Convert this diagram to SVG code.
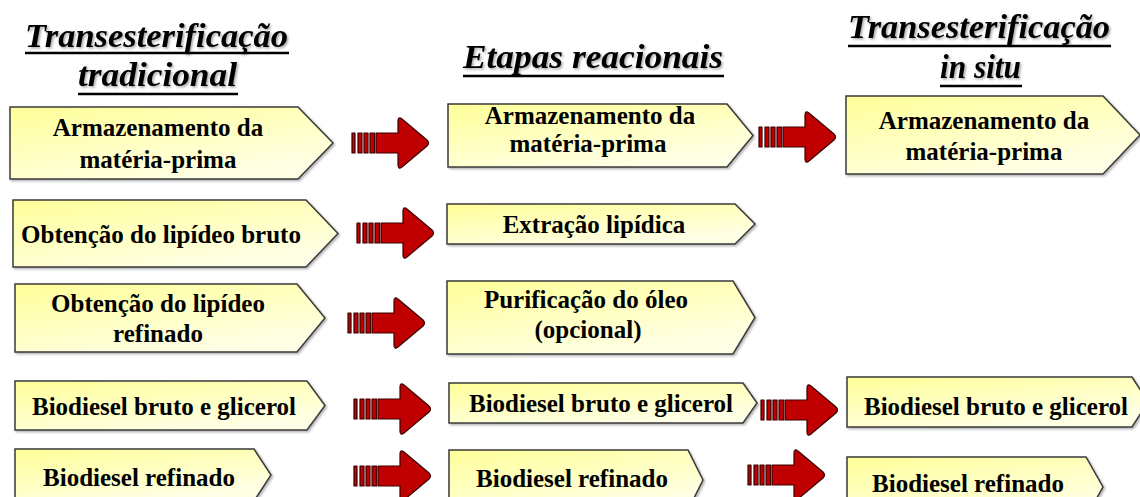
<svg xmlns="http://www.w3.org/2000/svg" width="1140" height="497" viewBox="0 0 1140 497">
<style>
.box{fill:url(#yg);stroke:#3a3a3a;stroke-width:1.5;filter:url(#sh)}
.t{font-weight:bold;font-size:25px;fill:#000;text-anchor:middle}
.h{font-weight:bold;font-style:italic;font-size:34px;fill:#000;filter:url(#tsh)}
.ul{stroke:#000;stroke-width:2.5}
.ar{fill:#C00000;stroke:#3a0000;stroke-width:1.2;stroke-linejoin:round}
</style>
<defs>
<linearGradient id="yg" x1="0" y1="0" x2="0.6" y2="1">
<stop offset="0" stop-color="#FFFF99"/>
<stop offset="1" stop-color="#FFFFE6"/>
</linearGradient>
<filter id="sh" x="-5%" y="-10%" width="115%" height="130%">
<feDropShadow dx="1.5" dy="1.5" stdDeviation="1" flood-color="#000" flood-opacity="0.3"/>
</filter>
<filter id="tsh" x="-5%" y="-10%" width="115%" height="130%">
<feDropShadow dx="1.5" dy="1.5" stdDeviation="0.8" flood-color="#000" flood-opacity="0.35"/>
</filter>
<g id="arr" class="ar">
<rect x="0" y="-10" width="3" height="20"/>
<rect x="6" y="-10" width="4" height="20"/>
<rect x="12" y="-10" width="4" height="20"/>
<rect x="18" y="-10" width="4.5" height="20"/>
<path d="M24,-10 H46 V-22 Q46,-27 50,-24 L75,-3 Q78,0 75,3 L50,24 Q46,27 46,22 V10 H24 Z"/>
</g>
</defs>
<rect width="1140" height="497" fill="#fff"/>

<g id="titles" font-family="Liberation Serif, Tinos, Times New Roman, DejaVu Serif, serif">
<text class="h" x="25" y="47" textLength="263" lengthAdjust="spacingAndGlyphs">Transesterificação</text>
<line class="ul" x1="25" y1="53" x2="289" y2="53"/>
<text class="h" x="78" y="86" textLength="159" lengthAdjust="spacingAndGlyphs">tradicional</text>
<line class="ul" x1="78" y1="94" x2="238" y2="94"/>
<text class="h" x="463" y="68" textLength="260" lengthAdjust="spacingAndGlyphs">Etapas reacionais</text>
<line class="ul" x1="463" y1="76" x2="724" y2="76"/>
<text class="h" x="848" y="38" textLength="262" lengthAdjust="spacingAndGlyphs">Transesterificação</text>
<line class="ul" x1="848" y1="46" x2="1111" y2="46"/>
<text class="h" x="940" y="78" textLength="81" lengthAdjust="spacingAndGlyphs">in situ</text>
<line class="ul" x1="940" y1="86" x2="1022" y2="86"/>
</g>

<g id="connectors">
<use href="#arr" x="352" y="143"/>
<use href="#arr" x="357" y="233"/>
<use href="#arr" x="348" y="323"/>
<use href="#arr" x="354" y="409"/>
<use href="#arr" x="354" y="476"/>
<use href="#arr" x="759" y="137"/>
<use href="#arr" x="761" y="410"/>
<use href="#arr" x="748" y="475"/>
</g>

<g id="nodes" font-family="Liberation Serif, Tinos, Times New Roman, DejaVu Serif, serif">
<g id="c1r1"><path class="box" d="M10,107 H298 L333,143 L298,179 H10 Z"/>
<text class="t" x="158" y="136">Armazenamento da</text><text class="t" x="158" y="168">matéria-prima</text></g>
<g id="c1r2"><path class="box" d="M13,200 H306 L338,233.5 L306,267 H13 Z"/>
<text class="t" x="161" y="243">Obtenção do lipídeo bruto</text></g>
<g id="c1r3"><path class="box" d="M15,284 H297 L325,318 L297,352 H15 Z"/>
<text class="t" x="158" y="312">Obtenção do lipídeo</text><text class="t" x="158" y="342">refinado</text></g>
<g id="c1r4"><path class="box" d="M15,381 H307 L325,405.5 L307,430 H15 Z"/>
<text class="t" x="164" y="415">Biodiesel bruto e glicerol</text></g>
<g id="c1r5"><path class="box" d="M15,449 H254 L271,475 L254,501 H15 Z"/>
<text class="t" x="139" y="486">Biodiesel refinado</text></g>

<g id="c2r1"><path class="box" d="M448,104 H727 L753,135.5 L727,167 H448 Z"/>
<text class="t" x="590" y="124">Armazenamento da</text><text class="t" x="588" y="152">matéria-prima</text></g>
<g id="c2r2"><path class="box" d="M447,204 H735 L755,224 L735,244 H447 Z"/>
<text class="t" x="594" y="233">Extração lipídica</text></g>
<g id="c2r3"><path class="box" d="M447,281 H733 L755,317.5 L733,354 H447 Z"/>
<text class="t" x="586" y="308">Purificação do óleo</text><text class="t" x="588" y="338">(opcional)</text></g>
<g id="c2r4"><path class="box" d="M449,383 H743 L757,403 L743,423 H449 Z"/>
<text class="t" x="601" y="412">Biodiesel bruto e glicerol</text></g>
<g id="c2r5"><path class="box" d="M449,450 H688 L703,480 L688,510 H449 Z"/>
<text class="t" x="572" y="487">Biodiesel refinado</text></g>

<g id="c3r1"><path class="box" d="M846,96 H1103 L1140,135 L1103,174 H846 Z"/>
<text class="t" x="984" y="129">Armazenamento da</text><text class="t" x="984" y="160">matéria-prima</text></g>
<g id="c3r4"><path class="box" d="M847,377 H1132 L1148,402 L1132,427 H847 Z"/>
<text class="t" x="996" y="415">Biodiesel bruto e glicerol</text></g>
<g id="c3r5"><path class="box" d="M847,457 H1086 L1103,487 L1086,517 H847 Z"/>
<text class="t" x="968" y="492">Biodiesel refinado</text></g>
</g>
</svg>
